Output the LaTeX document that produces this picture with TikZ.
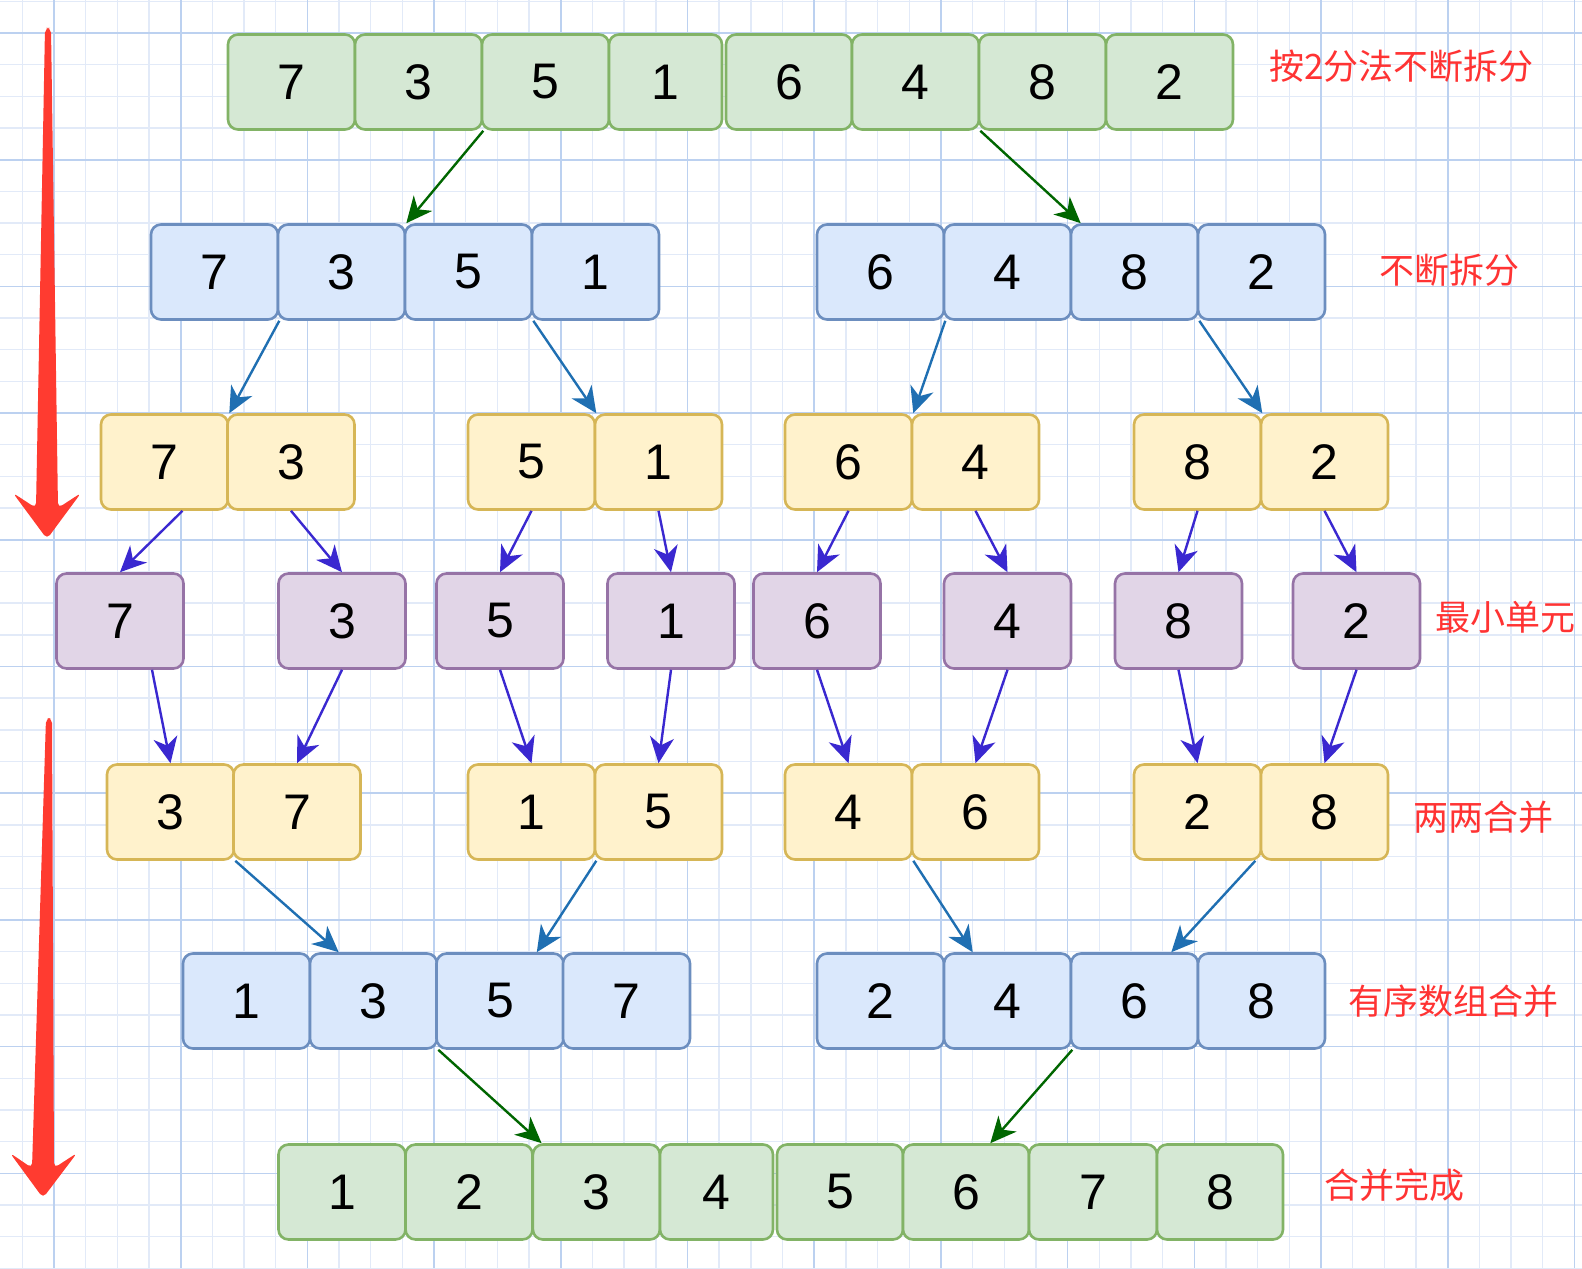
\documentclass[tikz,border=0pt]{standalone}
\usepackage{fontspec}
\setmainfont{Liberation Sans}
\newfontfamily\cjk{Noto Sans CJK SC}
\usetikzlibrary{arrows.meta}
\usetikzlibrary{calc}

\definecolor{gridmajor}{HTML}{BCD1F0}
\definecolor{gridminor}{HTML}{E2EAF8}
\definecolor{greenfill}{HTML}{D5E8D4}
\definecolor{greenline}{HTML}{82B366}
\definecolor{bluefill}{HTML}{DAE8FC}
\definecolor{blueline}{HTML}{6C8EBF}
\definecolor{yellowfill}{HTML}{FFF2CC}
\definecolor{yellowline}{HTML}{D6B656}
\definecolor{purplefill}{HTML}{E1D5E7}
\definecolor{purpleline}{HTML}{9673A6}
\definecolor{splitgreen}{HTML}{006600}
\definecolor{splitblue}{HTML}{1F6FB2}
\definecolor{splitpurple}{HTML}{3A28D0}
\definecolor{notered}{HTML}{FF3333}
\definecolor{bigred}{HTML}{FF3B30}

\tikzset{
  cell/.style={draw, line width=1.3pt, rounded corners=5pt, minimum width=63.5pt,
    minimum height=47.5pt, inner sep=0pt, font=\fontsize{25}{30}\selectfont},
  greencell/.style={cell, fill=greenfill, draw=greenline},
  bluecell/.style={cell, fill=bluefill, draw=blueline},
  yellowcell/.style={cell, fill=yellowfill, draw=yellowline},
  purplecell/.style={cell, fill=purplefill, draw=purpleline},
  link/.style={line width=1.2pt, -{Stealth[length=13pt, width=12pt, inset=4pt]}},
  note/.style={anchor=west, inner sep=0pt, text=notered, font=\cjk\fontsize{17.5}{20}\selectfont}
}

\begin{document}
\begin{tikzpicture}[x=0.5pt, y=-0.5pt]
\useasboundingbox (0,0) rectangle (1582,1268);
\fill[white] (0,0) rectangle (1582,1268);

% grid paper
\foreach \k in {-1,...,48}
  \draw[gridminor, line width=0.7pt] ({54+31.675*\k},0) -- ({54+31.675*\k},1268);
\foreach \k in {-1,...,39}
  \draw[gridminor, line width=0.7pt] (0,{33+31.675*\k}) -- (1582,{33+31.675*\k});
\foreach \k in {0,...,12}
  \draw[gridmajor, line width=0.8pt] ({54+126.7*\k},0) -- ({54+126.7*\k},1268);
\foreach \k in {0,...,9}
  \draw[gridmajor, line width=0.8pt] (0,{33+126.7*\k}) -- (1582,{33+126.7*\k});

% big red arrows
\fill[bigred, rounded corners=2.5pt] (45,28) -- (51,28) -- (58,508) -- (81,493) -- (47,539)
  -- (13,493) -- (36,508) -- cycle;
\fill[bigred, rounded corners=2.5pt] (46,718) -- (52,718) -- (54,1168) -- (77,1153) -- (43,1198)
  -- (10,1153) -- (32,1168) -- cycle;

% rows
\foreach \x/\w/\v [count=\i] in {291.5/63.5/7,418.5/63.5/3,545.5/63.5/5,665.5/56.5/1,789/63/6,915.5/63.5/4,1042.5/63.5/8,1169.5/63.5/2}
  \node[greencell, minimum width=\w pt] (a\i) at (\x,82) {\v};
\foreach \x/\v [count=\i] in {214.5/7,341.5/3,468.5/5,595.5/1,880.5/6,1007.5/4,1134.5/8,1261.5/2}
  \node[bluecell] (b\i) at (\x,272) {\v};
\foreach \x/\v [count=\i] in {164.5/7,291/3,531.5/5,658.5/1,848.5/6,975.5/4,1197.5/8,1324.5/2}
  \node[yellowcell] (c\i) at (\x,462) {\v};
\foreach \x/\v [count=\i] in {120/7,342/3,500/5,671/1,817/6,1007.5/4,1178.5/8,1356.5/2}
  \node[purplecell] (d\i) at (\x,621) {\v};
\foreach \x/\v [count=\i] in {170.5/3,297/7,531.5/1,658.5/5,848.5/4,975.5/6,1197.5/2,1324.5/8}
  \node[yellowcell] (e\i) at (\x,812) {\v};
\foreach \x/\v [count=\i] in {246.5/1,373.5/3,500/5,626.5/7,880.5/2,1007.5/4,1134.5/6,1261.5/8}
  \node[bluecell] (f\i) at (\x,1001) {\v};
\foreach \x/\w/\v [count=\i] in {342/63.5/1,469/63.5/2,596.4/63.5/3,716.5/56.5/4,840/63/5,966/63/6,1093/64/7,1220/63/8}
  \node[greencell, minimum width=\w pt] (g\i) at (\x,1192) {\v};

% split
\draw[splitgreen, link] (a2.south east) -- (b2.north east);
\draw[splitgreen, link] (a6.south east) -- ($(b7.north west)+(11,0)$);
\foreach \i in {1,3,5,7}
  \draw[splitblue, link] (b\i.south east) -- (c\i.north east);
\draw[splitpurple, link] ($(c1.south)+(18,0)$) -- (d1.north);
\foreach \i in {2,...,8}
  \draw[splitpurple, link] (c\i.south) -- (d\i.north);

% merge
\draw[splitpurple, link] ($(d1.south)+(32,0)$) -- (e1.north);
\foreach \i in {2,...,8}
  \draw[splitpurple, link] (d\i.south) -- (e\i.north);
\draw[splitblue, link] (e1.south east) -- ($(f2.north west)+(30,0)$);
\draw[splitblue, link] (e3.south east) -- ($(f3.north east)+(-28,0)$);
\draw[splitblue, link] (e5.south east) -- ($(f6.north west)+(30,0)$);
\draw[splitblue, link] ($(e7.south east)+(-7,0)$) -- ($(f7.north east)+(-28,0)$);
\draw[splitgreen, link] (f2.south east) -- ($(g3.north west)+(10,0)$);
\draw[splitgreen, link] (f6.south east) -- ($(g6.north east)+(-40,0)$);

% notes
\node[note] (n1) at (1269,66) {按2分法不断拆分};
\node[note] (n2) at (1379,270) {不断拆分};
\node[note] (n3) at (1435,617) {最小单元};
\node[note] (n4) at (1413,817) {两两合并};
\node[note] (n5) at (1348,1001) {有序数组合并};
\node[note] (n6) at (1324,1185) {合并完成};
\end{tikzpicture}
\end{document}
